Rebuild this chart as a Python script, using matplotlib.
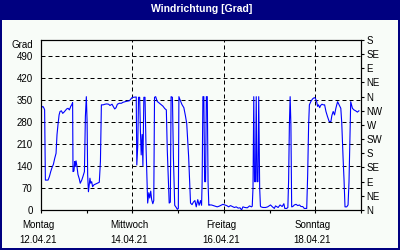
import numpy as np
import matplotlib
matplotlib.use('Agg')
import matplotlib.pyplot as plt
from matplotlib.patches import Rectangle
from matplotlib.ticker import MultipleLocator
from matplotlib.transforms import ScaledTranslation

matplotlib.rcParams['font.family'] = ['Liberation Sans', 'DejaVu Sans']
matplotlib.rcParams['font.size'] = 7

# hours since Montag 12.04.21 00:00, wind direction in degrees
hours = [0, 1.0, 1.6, 1.9, 2.3, 3.7, 4.4, 5.1, 5.8, 6.5, 7.2, 7.9, 8.4, 8.9, 9.5, 10.0,
         10.7, 11.4, 12.1, 12.8, 13.5, 14.2, 14.9, 15.6, 16.1, 16.6, 16.8, 17.3, 17.7,
         18.0, 18.4, 18.9, 19.4, 20.1, 20.6, 21.4, 22.0, 22.8, 23.3, 23.8, 24.2, 24.5,
         24.9, 25.2, 25.7, 26.1, 26.6, 27.1, 27.8, 28.9, 29.9, 30.6, 31.2, 31.7, 32.6,
         33.6, 34.5, 35.5, 36.2, 37.3, 38.0, 38.7, 39.4, 40.1, 41.1, 42.2, 43.0, 44.7,
         46.4, 47.8, 48.5, 50.0, 50.3, 50.8, 51.2, 51.8, 52.2, 52.6, 53.1, 53.5, 54.0,
         54.6, 55.1, 55.6, 56.0, 56.6, 57.1, 57.6, 58.1, 58.7, 59.2, 59.6, 60.2, 61.0,
         62.0, 63.0, 64.0, 65.0, 65.8, 66.3, 66.8, 67.3, 67.9, 68.3, 69.0, 69.5, 70.2,
         71.0, 71.6, 72.1, 72.4, 73.0, 74.0, 75.0, 75.8, 76.5, 77.0, 77.5, 78.0, 78.5,
         79.3, 80.0, 80.8, 81.5, 82.3, 83.0, 83.75, 84.3, 84.6, 85.0, 85.5, 85.9, 86.4,
         86.8, 87.3, 87.7, 88.1, 88.5, 89.5, 90.5, 91.5, 92.5, 93.5, 94.5, 95.5, 96.5,
         97.5, 98.5, 99.5, 100.5, 101.5, 102.5, 103.5, 104.5, 105.3, 106.0, 107.0, 108.3,
         109.5, 110.5, 110.9, 111.3, 111.7, 112.1, 112.6, 113.0, 113.4, 113.9, 114.3,
         114.8, 115.2, 115.5, 116.5, 117.9, 119.0, 120.5, 121.5, 122.5, 123.1, 124.5,
         125.5, 126.6, 127.5, 128.0, 129.0, 129.6, 130.0, 130.4, 130.8, 131.2, 131.6,
         132.2, 133.0, 133.9, 134.8, 135.7, 136.5, 137.4, 138.2, 139.1, 139.5, 140.0,
         140.5, 140.9, 141.7, 142.6, 143.5, 144.0, 144.7, 145.2, 145.7, 146.3, 146.8,
         147.5, 148.2, 148.9, 149.6, 150.4, 151.3, 152.2, 152.7, 153.4, 154.1, 154.8,
         155.7, 156.5, 157.4, 157.9, 158.6, 159.1, 159.6, 160.5, 161.2, 161.7, 162.3,
         162.6, 163.5, 164.3, 165.2, 166.1, 166.9]
grad = [325, 329, 323, 318, 95, 95, 106, 122, 135, 145, 164, 180, 239, 270, 302, 313,
        315, 307, 311, 316, 321, 323, 318, 329, 334, 341, 122, 124, 154,
        138, 156, 138, 113, 99, 85, 95, 106, 122, 297, 360, 281, 111,
        58, 74, 101, 85, 90, 74, 80, 83, 86, 88, 154, 334, 334,
        336, 337, 336, 332, 336, 328, 321, 325, 336, 339, 339, 342, 345,
        347, 357, 358, 359, 143, 205, 358, 358, 250, 175, 240, 140, 358,
        358, 210, 100, 22, 55, 38, 60, 33, 20, 30, 358, 360, 345,
        340, 335, 330, 322, 318, 190, 107, 22, 25, 360, 358, 170, 15,
        8, 2, 5, 360, 350, 335, 325, 300, 275, 223, 170, 96, 22,
        17, 25, 30, 10, 33, 15, 30, 15, 90, 360, 360, 90, 90,
        360, 360, 90, 15, 16, 16, 14, 12, 10, 12, 15, 18, 16,
        14, 10, 14, 11, 8, 10, 6, 7, 0, 10, 8, 7,
        13, 10, 12, 70, 360, 90, 90, 360, 90, 90, 360,
        70, 12, 10, 8, 8, 10, 16, 10, 5, 13, 8,
        16, 11, 20, 5, 5, 8, 95, 270, 360, 270, 10,
        11, 16, 18, 14, 16, 11, 11, 5, 5, 5, 111,
        270, 334, 345, 353, 357, 355, 345, 329, 334, 325, 332,
        336, 334, 334, 313, 297, 281, 281, 300, 313, 302, 323,
        344, 334, 323, 276, 164, 95, 10, 10, 16, 90, 270,
        344, 323, 318, 315, 311, 315]

left_ticks = [0, 70, 140, 210, 280, 350, 420, 490]
dir_ticks = [0, 45, 90, 135, 180, 225, 270, 315, 360, 405, 450, 495, 540]
dir_labels = ['N', 'NE', 'E', 'SE', 'S', 'SW', 'W', 'NW', 'N', 'NE', 'E', 'SE', 'S']
day_ticks = [0, 48, 96, 144]
day_labels = ['Montag\n12.04.21', 'Mittwoch\n14.04.21', 'Freitag\n16.04.21', 'Sonntag\n18.04.21']

navy = '#000080'
bg = '#f8fcf8'

fig = plt.figure(figsize=(4, 2.5), dpi=100, facecolor=navy)
fig.patches.append(Rectangle((2/400, 2/250), 396/400, 228/250, transform=fig.transFigure,
                             facecolor=bg, edgecolor='none', zorder=-10))
fig.text(0.505, 1 - 8.5/250, 'Windrichtung [Grad]', color='white', fontweight='bold',
         fontsize=7.5, ha='center', va='center')

ax = fig.add_axes([41/400, 40/250, 320/400, 170/250])
ax.set_facecolor('none')
ax.plot(hours, grad, color='#0000ff', lw=0.8, zorder=3)
ax.set_xlim(0, 168)
ax.set_ylim(0, 540)

ax.set_yticks(left_ticks)
ax.set_xticks(day_ticks)
ax.set_xticklabels(day_labels, linespacing=1.55)
ax.xaxis.set_minor_locator(MultipleLocator(24))
ax.tick_params(axis='y', length=0, pad=6)
ax.tick_params(axis='x', which='both', direction='out', length=2.5, width=0.8, pad=5)
ax.grid(True, color='black', linestyle=(0, (4, 3)), linewidth=0.72)
for s in ax.spines.values():
    s.set_linewidth(0.8)
# labels sit a little left of their tick in the original
shift = ScaledTranslation(-3/100, 0, fig.dpi_scale_trans)
for lbl in ax.get_xticklabels():
    lbl.set_transform(lbl.get_transform() + shift)

ax2 = ax.twinx()
ax2.set_ylim(0, 540)
ax2.set_yticks(dir_ticks)
ax2.set_yticklabels(dir_labels)
ax2.tick_params(axis='y', direction='out', length=2.5, width=0.8, pad=1.5)

fig.text(33/400, 1 - 45/250, 'Grad', ha='right', va='center')

plt.savefig('out.png', dpi=100, facecolor=navy)
